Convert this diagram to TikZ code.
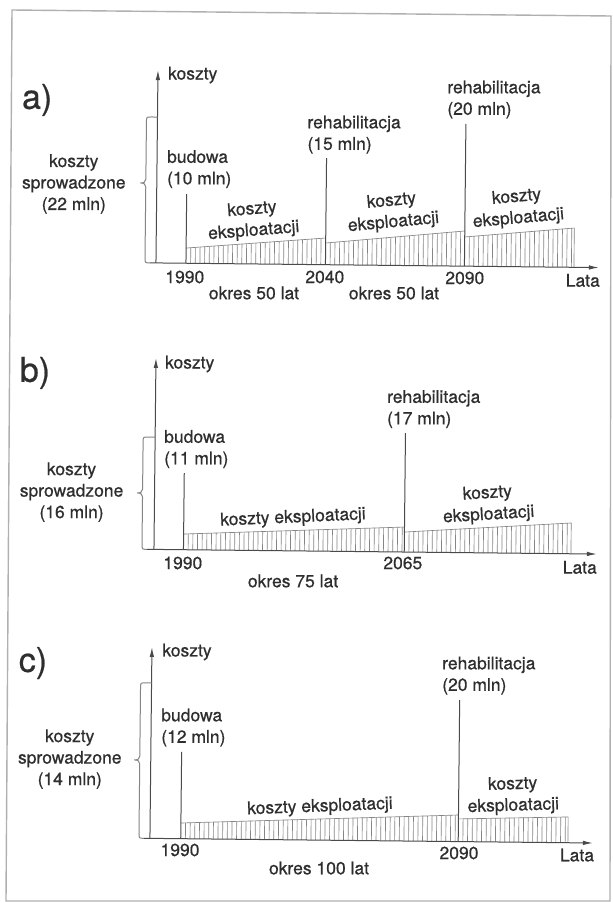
\documentclass[tikz,border=0pt]{standalone}
\usepackage{fontspec}
\setmainfont{TeX Gyre Heros}
\newfontfamily\heavyfont{TeX Gyre Heros}[FakeBold=0.6]
\usetikzlibrary{arrows.meta}
\definecolor{txt}{HTML}{2E2E2E}
\definecolor{ln}{HTML}{4A4A4A}
\definecolor{hl}{HTML}{858585}
\definecolor{fr}{HTML}{B0B0B0}
\newcommand\hatchseg[5]{%
  \begin{scope}
    \clip (#1,#5) -- (#1,#2) -- (#3,#4) -- (#3,#5) -- cycle;
    \foreach \i in {1,...,70} {\draw[hatchln] ({#1+\i*4.65},#5) -- ({#1+\i*4.65},{min(#2,#4)-3});}
  \end{scope}
  \draw[hatchln] (#1,#2) -- (#3,#4);}
\begin{document}
\begin{tikzpicture}[x=1pt,y=-1pt,
  lbl/.style={inner sep=0pt, text=txt, font=\heavyfont\fontsize{17.5}{21.5}\selectfont, align=center},
  lbll/.style={lbl, align=left, anchor=west},
  panel/.style={inner sep=0pt, text=txt, font=\heavyfont\fontsize{34}{36}\selectfont},
  axisl/.style={draw=ln, line width=1pt, -{Latex[length=10pt,width=4.5pt]}},
  event/.style={draw=ln, line width=1pt},
  hatchln/.style={draw=hl, line width=0.65pt},
  bracel/.style={draw=hl, line width=1pt},
  framel/.style={draw=fr, line width=1.4pt}]
\useasboundingbox (0,0) rectangle (613,903);
\fill[white] (0,0) rectangle (613,903);
\coordinate (f1) at (12,10);
\coordinate (f2) at (611,16);
\coordinate (f3) at (610,901);
\coordinate (f4) at (6,901);
\draw[framel] (f1) -- (f2) -- (f3) -- (f4) -- cycle;

\begin{scope}[rotate around={-0.6:(306,451)}]
% ---------------- panel a
\node[panel] (pa) at (33.5,102.8) {a)};
\coordinate (aO) at (154,264.5);
\coordinate (aY) at (154,71.6);
\coordinate (aXs) at (148,264.5);
\coordinate (aX) at (597,264.5);
\hatchseg{184}{249.3}{323.5}{237.8}{264.5}
\hatchseg{323.5}{242.8}{462.5}{229.3}{264.5}
\hatchseg{462.5}{235.3}{572}{225.2}{264.5}
\draw[hatchln] (572,225.2) -- (572,264.5);
\draw[axisl] (aO) -- (aY);
\draw[axisl] (aXs) -- (aX);
\draw[bracel] (154,118.6) -- (148,118.6) .. controls (143,118.6) .. (143,123.6) -- (143,180.7)
  .. controls (143,183.7) and (141,184.7) .. (137.5,184.7)
  .. controls (141,184.7) and (143,185.7) .. (143,188.7) -- (143,259.5)
  .. controls (143,264.5) .. (148,264.5);
\coordinate (a1b) at (184,264.5); \coordinate (a1t) at (184,195.3);
\coordinate (a2b) at (323.5,264.5); \coordinate (a2t) at (323.5,158);
\coordinate (a3b) at (462.5,264.5); \coordinate (a3t) at (462.5,122.3);
\draw[event] (a1b) -- (a1t);
\draw[event] (a2b) -- (a2t);
\draw[event] (a3b) -- (a3t);
\node[lbl] (aSp) at (71,186.4) {koszty\\sprowadzone\\(22 mln)};
\node[lbll] (aK) at (164,76.5) {koszty};
\node[lbll] (aB) at (164,170.5) {budowa\\(10 mln)};
\node[lbll] (aR1) at (304,134.5) {rehabilitacja\\(15 mln)};
\node[lbll] (aR2) at (443.5,98) {rehabilitacja\\(20 mln)};
\node[lbl, rotate=4.6] (aE1) at (250.5,221) {koszty\\eksploatacji};
\node[lbl, rotate=5.3] (aE2) at (390,211) {koszty\\eksploatacji};
\node[lbl, rotate=5] (aE3) at (515,205.8) {koszty\\eksploatacji};
\node[lbl] (aT1) at (183,278.3) {1990};
\node[lbl] (aT2) at (323,276.8) {2040};
\node[lbl] (aT3) at (463,276.3) {2090};
\node[lbl] (aL) at (581,277.5) {Lata};
\node[lbl] (aP1) at (252.3,293.5) {okres 50 lat};
\node[lbl] (aP2) at (392.3,292.1) {okres 50 lat};

% ---------------- panel b
\node[panel] (pb) at (34.2,375.8) {b)};
\coordinate (bO) at (155,551);
\coordinate (bY) at (155,359.5);
\coordinate (bXs) at (148,551);
\coordinate (bX) at (598,551);
\hatchseg{184.5}{535.3}{405.3}{526}{551}
\hatchseg{405.3}{531}{572}{520.2}{551}
\draw[hatchln] (572,520.2) -- (572,551);
\draw[axisl] (bO) -- (bY);
\draw[axisl] (bXs) -- (bX);
\draw[bracel] (155,438.7) -- (148,438.7) .. controls (143,438.7) .. (143,443.7) -- (143,490.7)
  .. controls (143,493.7) and (141,494.7) .. (137.5,494.7)
  .. controls (141,494.7) and (143,495.7) .. (143,498.7) -- (143,546)
  .. controls (143,551) .. (148,551);
\coordinate (b1b) at (184.5,551); \coordinate (b1t) at (184.5,474.3);
\coordinate (b2b) at (405.3,551); \coordinate (b2t) at (405.3,432);
\draw[event] (b1b) -- (b1t);
\draw[event] (b2b) -- (b2t);
\node[lbl] (bSp) at (72,494.5) {koszty\\sprowadzone\\(16 mln)};
\node[lbll] (bK) at (164,365.5) {koszty};
\node[lbll] (bB) at (164,450.5) {budowa\\(11 mln)};
\node[lbll] (bR1) at (386.5,408.2) {rehabilitacja\\(17 mln)};
\node[lbl, rotate=2.5] (bE1) at (293.7,518.1) {koszty eksploatacji};
\node[lbl, rotate=3.5] (bE2) at (488.6,502.5) {koszty\\eksploatacji};
\node[lbl] (bT1) at (184,564.3) {1990};
\node[lbl] (bT2) at (404,562) {2065};
\node[lbl] (bL) at (581,564.5) {Lata};
\node[lbl] (bP1) at (294.4,581.1) {okres 75 lat};

% ---------------- panel c
\node[panel] (pc) at (35.2,665.9) {c)};
\coordinate (cO) at (154,840);
\coordinate (cY) at (154,648.6);
\coordinate (cXs) at (148,840);
\coordinate (cX) at (597,840);
\hatchseg{184.8}{824.3}{462.3}{813.4}{840}
\hatchseg{462.3}{817.3}{572}{814.2}{840}
\draw[hatchln] (572,814.2) -- (572,840);
\draw[axisl] (cO) -- (cY);
\draw[axisl] (cXs) -- (cX);
\draw[bracel] (154,684.5) -- (148,684.5) .. controls (143,684.5) .. (143,689.5) -- (143,757.7)
  .. controls (143,760.7) and (141,761.7) .. (137.5,761.7)
  .. controls (141,761.7) and (143,762.7) .. (143,765.7) -- (143,835)
  .. controls (143,840) .. (148,840);
\coordinate (c1b) at (184.8,840); \coordinate (c1t) at (184.8,753.3);
\coordinate (c2b) at (462.3,840); \coordinate (c2t) at (462.3,698.4);
\draw[event] (c1b) -- (c1t);
\draw[event] (c2b) -- (c2t);
\node[lbl] (cSp) at (73,761.5) {koszty\\sprowadzone\\(14 mln)};
\node[lbll] (cK) at (164.3,653.5) {koszty};
\node[lbll] (cB) at (164,729) {budowa\\(12 mln)};
\node[lbll] (cR1) at (444.4,674.1) {rehabilitacja\\(20 mln)};
\node[lbl, rotate=2.2] (cE1) at (323.7,806.9) {koszty eksploatacji};
\node[lbl, rotate=1.8] (cE2) at (516.6,793.3) {koszty\\eksploatacji};
\node[lbl] (cT1) at (184.2,851.3) {1990};
\node[lbl] (cT2) at (463.2,851.4) {2090};
\node[lbl] (cL) at (581.2,852.2) {Lata};
\node[lbl] (cP1) at (323.4,867.9) {okres 100 lat};
\end{scope}
\end{tikzpicture}
\end{document}
